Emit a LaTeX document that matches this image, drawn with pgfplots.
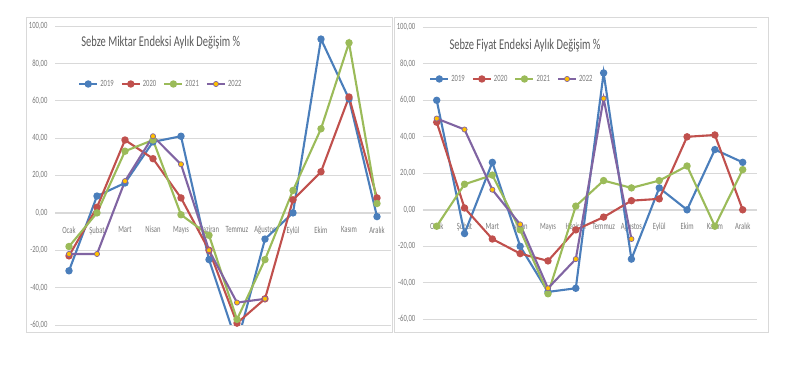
\documentclass[border=0pt]{standalone}
\usepackage{pgfplots}
\pgfplotsset{compat=1.18}
\usepackage{fontspec}
\setmainfont{Carlito}[FakeStretch=0.7]
\definecolor{c19}{HTML}{4A7EBB}
\definecolor{c20}{HTML}{C0504D}
\definecolor{c21}{HTML}{9BBB59}
\definecolor{c22}{HTML}{8064A2}
\definecolor{c22f}{HTML}{FFC000}
\definecolor{gridc}{HTML}{D9D9D9}
\definecolor{txt}{HTML}{7A7A7A}
\definecolor{ttl}{HTML}{595959}
\pgfplotsset{
 excel/.style={
  scale only axis,
  xmin=-0.5, xmax=11.5, ymin=-60, ymax=100,
  ytick={-60,-40,-20,0,20,40,60,80,100},
  xtick={0,1,2,3,4,5,6,7,8,9,10,11},
  xticklabels={Ocak,Şubat,Mart,Nisan,Mayıs,Haziran,Temmuz,Ağustos,Eylül,Ekim,Kasım,Aralık},
  axis x line=middle, axis y line=left,
  hide obscured x ticks=false, hide obscured y ticks=false,
  x axis line style={draw=gridc,-}, y axis line style={draw=none},
  major tick length=0pt,
  ymajorgrids, grid style={gridc, line width=0.75pt},
  tick label style={font=\fontsize{9.5}{10}\selectfont, text=txt},
  xticklabel style={yshift=-10pt},
  yticklabel style={xshift=-4pt},
  yticklabel={\pgfmathprintnumber[fixed,fixed zerofill,precision=2,use comma,assume math mode=true]{\tick}},
  every axis plot/.append style={line width=2.1pt, mark=*, mark size=2.6pt},
  legend columns=4,
  legend style={draw=none, fill=none, font=\fontsize{9.5}{10}\selectfont, text=txt,
    /tikz/every even column/.append style={column sep=5pt}},
  legend image code/.code={\draw[mark repeat=2,mark phase=2] plot coordinates {(0pt,0pt)(9pt,0pt)(18pt,0pt)};},
 },
 s19/.style={color=c19, mark options={fill=c19, draw=c19}},
 s20/.style={color=c20, mark options={fill=c20, draw=c20}},
 s21/.style={color=c21, mark options={fill=c21, draw=c21}},
 s22/.style={color=c22, mark options={fill=c22f, draw=c22, line width=0.7pt}},
}
\begin{document}
\begin{tikzpicture}
\begin{axis}[excel, at={(55pt,47pt)}, anchor=south west, width=336pt, height=299pt,
  legend style={at={(0.315,0.806)}, anchor=center}]
\addplot[s19] coordinates {(0,-31) (1,9) (2,16) (3,38) (4,41) (5,-25) (6,-70) (7,-14) (8,0) (9,93) (10,61) (11,-2)};
\addplot[s20] coordinates {(0,-23) (1,3) (2,39) (3,29) (4,8) (5,-20) (6,-59) (7,-46) (8,7) (9,22) (10,62) (11,8)};
\addplot[s21] coordinates {(0,-18) (1,0) (2,33) (3,39) (4,-1) (5,-12) (6,-57) (7,-25) (8,12) (9,45) (10,91) (11,5)};
\addplot[s22] coordinates {(0,-22) (1,-22) (2,17) (3,41) (4,26) (5,-20) (6,-48) (7,-46)};
\legend{2019,2020,2021,2022}
\node[anchor=west, font=\fontsize{15}{17}\selectfont, text=ttl] at (rel axis cs:0.068,0.943) {Sebze Miktar Endeksi Aylık Değişim \%};
\end{axis}
\begin{axis}[excel, at={(422.8pt,52.7pt)}, anchor=south west, width=333.8pt, height=292pt,
  legend style={at={(0.267,0.823)}, anchor=center}]
\addplot[s19] coordinates {(0,60) (1,-13) (2,26) (3,-20) (4,-45) (5,-43) (6,75) (7,-27) (8,12) (9,0) (10,33) (11,26)};
\addplot[s20] coordinates {(0,48) (1,1) (2,-16) (3,-24) (4,-28) (5,-11) (6,-4) (7,5) (8,6) (9,40) (10,41) (11,0)};
\addplot[s21] coordinates {(0,-9) (1,14) (2,19) (3,-11) (4,-46) (5,2) (6,16) (7,12) (8,16) (9,24) (10,-9) (11,22)};
\addplot[s22] coordinates {(0,50) (1,44) (2,11) (3,-8) (4,-43) (5,-27) (6,61) (7,-16)};
\legend{2019,2020,2021,2022}
\node[anchor=west, font=\fontsize{15}{17}\selectfont, text=ttl] at (rel axis cs:0.0695,0.936) {Sebze Fiyat Endeksi Aylık Değişim \%};
\end{axis}
\draw[gridc, line width=0.75pt] (26pt,40pt) rectangle (392pt,355pt);
\draw[gridc, line width=0.75pt] (394pt,40pt) rectangle (768pt,355pt);
\pgfresetboundingbox
\useasboundingbox (0,0) rectangle (798pt,372pt);
\end{tikzpicture}
\end{document}
